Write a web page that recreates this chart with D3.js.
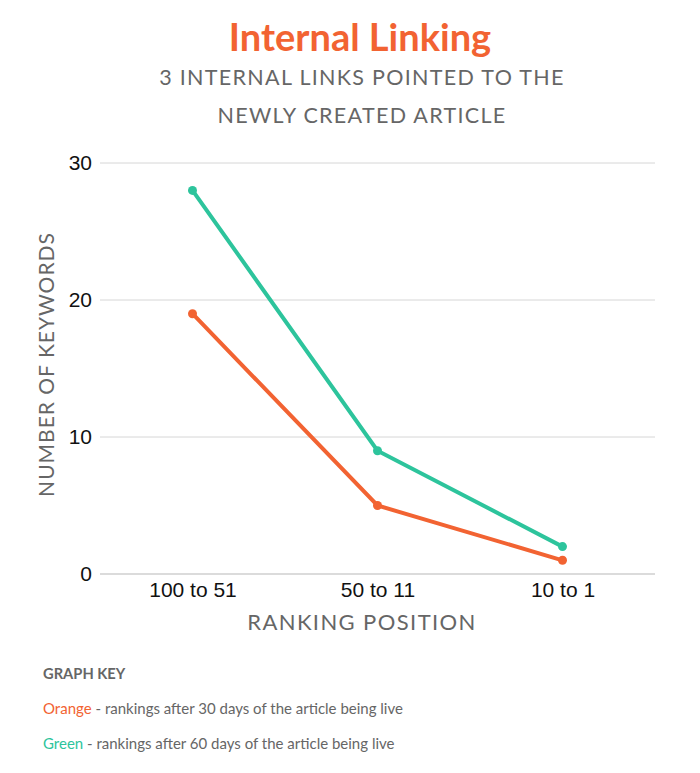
<!DOCTYPE html>
<html>
<head>
<meta charset="utf-8">
<script src="https://cdn.jsdelivr.net/npm/d3@7"></script>
<style>
  body { margin: 0; background: #fff; }
  text { font-family: "Lato", "Open Sans", sans-serif; }
</style>
</head>
<body>
<div id="plot"></div>
<script>
// Data
const categories = ["100 to 51", "50 to 11", "10 to 1"];
const orangeValues = [19, 5, 1];   // 30 days
const greenValues = [28, 9, 2];    // 60 days
const yTicks = [0, 10, 20, 30];

const width = 700, height = 773;
const margin = { top: 163, bottom: 199, left: 100, right: 45 };
const orange = "#f26332", green = "#2dc49c", gray = "#666666";

const svg = d3.select('#plot')
  .append('svg')
  .attr('width', width)
  .attr('height', height);

const x = d3.scalePoint()
  .domain(categories)
  .range([margin.left, width - margin.right])
  .padding(0.5);

const y = d3.scaleLinear()
  .domain([0, 30])
  .range([height - margin.bottom, margin.top]);

// Gridlines
svg.append('g')
  .selectAll('line')
  .data(yTicks)
  .join('line')
  .attr('x1', margin.left)
  .attr('x2', width - margin.right)
  .attr('y1', d => y(d))
  .attr('y2', d => y(d))
  .attr('stroke', d => d === 0 ? '#cfcfcf' : '#d6d6d6')
  .attr('stroke-width', d => d === 0 ? 1.5 : 1);

// Y tick labels
svg.append('g')
  .attr('transform', `translate(${margin.left - 8},0)`)
  .call(d3.axisLeft(y).tickValues(yTicks).tickSize(0).tickPadding(0))
  .call(g => g.select('.domain').remove())
  .selectAll('text')
  .style('font-family', '"Liberation Sans", Arial, sans-serif')
  .style('font-size', '21px')
  .attr('fill', '#111');

// X tick labels
svg.append('g')
  .attr('transform', `translate(0,${y(0) + 4})`)
  .call(d3.axisBottom(x).tickSize(0).tickPadding(0))
  .call(g => g.select('.domain').remove())
  .selectAll('text')
  .attr('dy', '0.9em')
  .style('font-family', '"Liberation Sans", Arial, sans-serif')
  .style('font-size', '21px')
  .attr('fill', '#111');

// Lines
const series = [
  { values: orangeValues, color: orange },
  { values: greenValues, color: green }
];

const line = d3.line()
  .x((d, i) => x(categories[i]))
  .y(d => y(d));

series.forEach(s => {
  svg.append('path')
    .datum(s.values)
    .attr('d', line)
    .attr('fill', 'none')
    .attr('stroke', s.color)
    .attr('stroke-width', 4);

  svg.append('g')
    .selectAll('circle')
    .data(s.values)
    .join('circle')
    .attr('cx', (d, i) => x(categories[i]))
    .attr('cy', d => y(d))
    .attr('r', 4.5)
    .attr('fill', s.color);
});

// Title
svg.append('text')
  .attr('x', 360)
  .attr('y', 51)
  .attr('text-anchor', 'middle')
  .style('font-size', '38px')
  .style('font-weight', 'bold')
  .attr('fill', orange)
  .text('Internal Linking');

// Subtitle
["3 INTERNAL LINKS POINTED TO THE", "NEWLY CREATED ARTICLE"].forEach((t, i) => {
  svg.append('text')
    .attr('x', 362)
    .attr('y', 85 + i * 38)
    .attr('text-anchor', 'middle')
    .style('font-size', '21.5px')
    .style('letter-spacing', '1.3px')
    .attr('fill', gray)
    .text(t);
});

// Y-axis title
svg.append('text')
  .attr('transform', `translate(54,${(y(0) + y(30)) / 2 - 4}) rotate(-90)`)
  .attr('text-anchor', 'middle')
  .style('font-size', '21px')
  .style('letter-spacing', '1px')
  .attr('fill', gray)
  .text('NUMBER OF KEYWORDS');

// X-axis title
svg.append('text')
  .attr('x', 362)
  .attr('y', 630)
  .attr('text-anchor', 'middle')
  .style('font-size', '22px')
  .style('letter-spacing', '1.4px')
  .attr('fill', gray)
  .text('RANKING POSITION');

// Graph key
svg.append('text')
  .attr('x', 43)
  .attr('y', 679)
  .style('font-size', '14.7px')
  .style('font-weight', 'bold')
  .attr('fill', gray)
  .text('GRAPH KEY');

const keyRows = [
  { name: 'Orange', color: orange, desc: ' - rankings after 30 days of the article being live' },
  { name: 'Green', color: green, desc: ' - rankings after 60 days of the article being live' }
];

keyRows.forEach((k, i) => {
  const t = svg.append('text')
    .attr('x', 43)
    .attr('y', 714 + i * 35)
    .style('font-size', '15px')
    .attr('fill', gray);
  t.append('tspan').attr('fill', k.color).text(k.name);
  t.append('tspan').text(k.desc);
});
</script>
</body>
</html>
